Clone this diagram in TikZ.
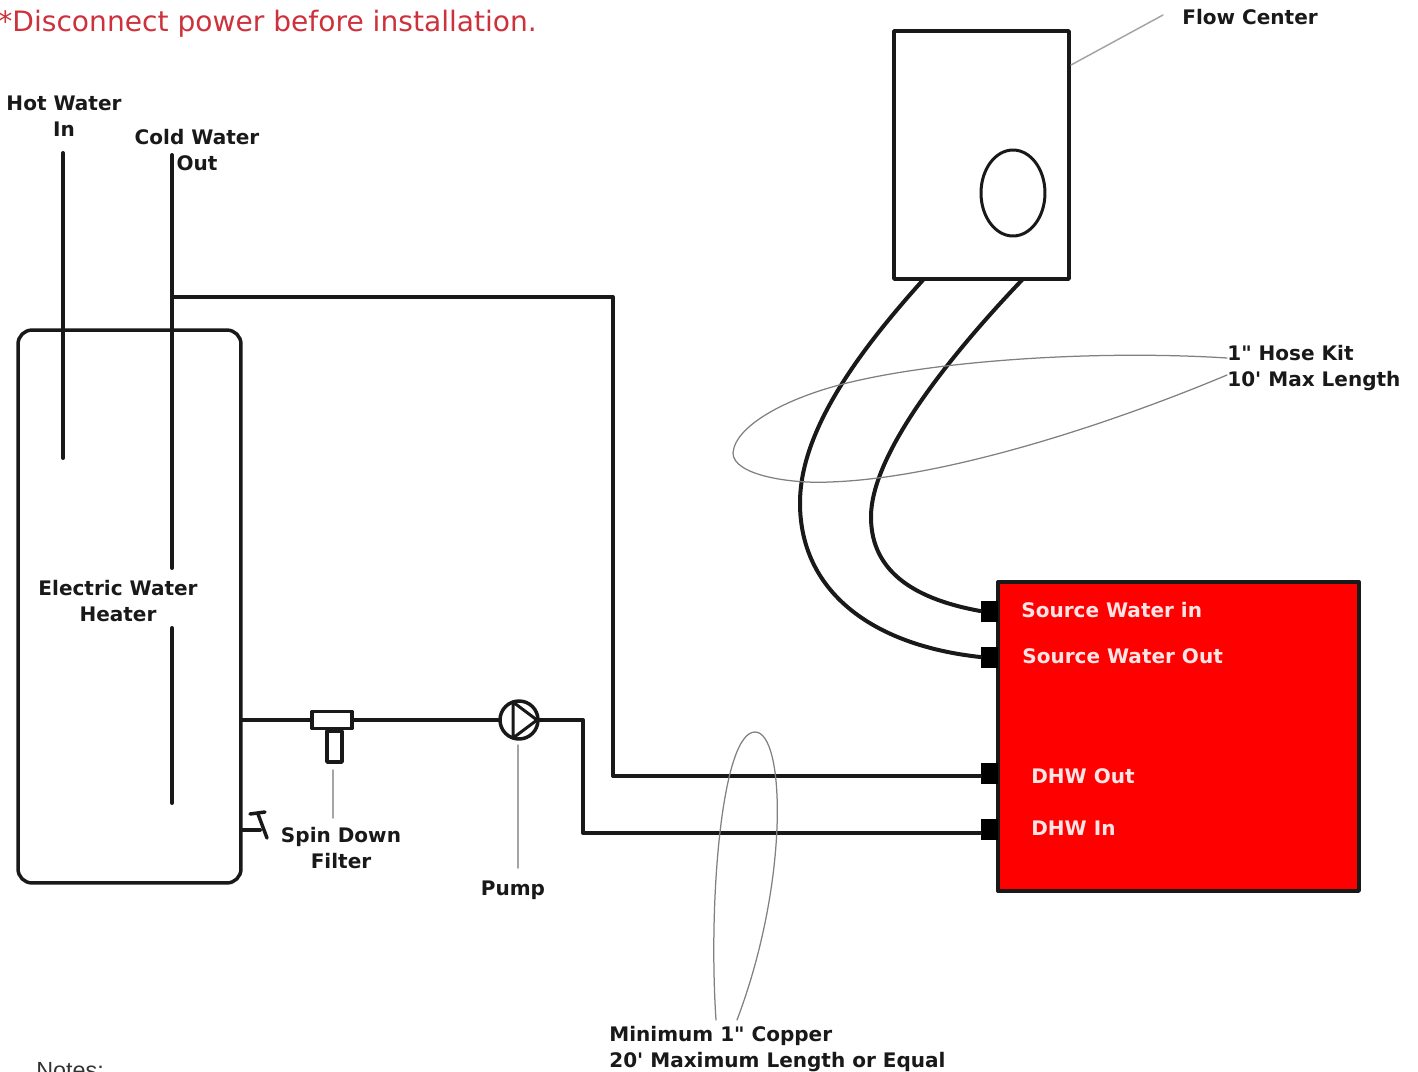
\documentclass[tikz,border=0pt]{standalone}
\usepackage{fontspec}
\setmainfont{DejaVu Sans}[Ligatures=TeXOff]
\newfontfamily\notesfont{Liberation Sans}
\usetikzlibrary{shapes.geometric}
\definecolor{warnred}{RGB}{205,50,60}
\definecolor{boxred}{RGB}{255,0,0}
\definecolor{leadgray}{RGB}{165,165,165}
\tikzset{
	pipe/.style={line width=0.08cm, black!90},
	leader/.style={line width=0.03cm, leadgray},
	loopline/.style={line width=0.025cm, gray},
	lbl/.style={font=\fontsize{11.4pt}{14.8pt}\selectfont\bfseries, inner sep=0pt, align=center, text=black!90},
	lblw/.style={lbl, anchor=west, align=left},
	lblred/.style={lblw, text=white!90!red},
	port/.style={fill=black, draw=none, minimum width=0.34cm, minimum height=0.42cm, inner sep=0pt},
}
\begin{document}
\begin{tikzpicture}[x=0.02cm, y=-0.02cm, line cap=round, line join=round]
	\useasboundingbox (0,0) rectangle (1418,1072);
	% text at the top and bottom
	\node[inner sep=0pt, anchor=west, text=warnred, font=\fontsize{16pt}{18pt}\selectfont] (warning) at (-2,24) {*Disconnect power before installation.};
	\node[inner sep=0pt, anchor=west, font=\notesfont\fontsize{13.3pt}{14pt}\selectfont, text=black!80] (notes) at (36,1071) {Notes:};
	% tank
	\node[draw=black!90, line width=0.07cm, rounded corners=0.28cm, minimum width=4.46cm, minimum height=11.06cm, inner sep=0pt] (heater) at (129.5,606.5) {};
	\node[lbl] (heaterlbl) at (118,601.5) {Electric Water\\Heater};
	\node[lbl] (hotlbl) at (64,116.5) {Hot Water\\In};
	\node[lbl] (coldlbl) at (197,150) {Cold Water\\Out};
	\coordinate (hottop) at (63,153);
	\coordinate (hotend) at (63,458);
	\coordinate (coldtop) at (172,155);
	\coordinate (coldgap) at (172,568);
	\coordinate (coldres) at (172,628);
	\coordinate (coldend) at (172,803);
	\coordinate (coldtee) at (172,297);
	\draw[pipe] (hottop) -- (hotend);
	\draw[pipe] (coldtop) -- (coldgap);
	\draw[pipe] (coldres) -- (coldend);
	% flow center
	\node[draw=black!90, line width=0.07cm, minimum width=3.5cm, minimum height=4.96cm, inner sep=0pt] (flow) at (981.5,155) {};
	\node[draw=black!90, line width=0.06cm, ellipse, minimum width=1.28cm, minimum height=1.72cm, inner sep=0pt] (flowcirc) at (1013,193) {};
	\node[lblw] (flowlbl) at (1182,17) {Flow Center};
	\coordinate (flowlead) at (1163,15);
	\draw[leader] (1071,65) -- (flowlead);
	% red unit
	\node[draw=black!90, fill=boxred, line width=0.07cm, minimum width=7.22cm, minimum height=6.18cm, inner sep=0pt] (unit) at (1178.5,736.5) {};
	\node[port] (srcin) at (989,611) {};
	\node[port] (srcout) at (989,657) {};
	\node[port] (dhwout) at (989,773) {};
	\node[port] (dhwin) at (989,829) {};
	\node[lblred] (srcinlbl) at (1021,610) {Source Water in};
	\node[lblred] (srcoutlbl) at (1022,656) {Source Water Out};
	\node[lblred] (dhwoutlbl) at (1031,776) {DHW Out};
	\node[lblred] (dhwinlbl) at (1031,828) {DHW In};
	% hoses
	\coordinate (hoseA) at (923,280);
	\coordinate (hoseB) at (1022,280);
	\draw[pipe] (hoseA) .. controls (860,350) and (800,430) .. (800,503) .. controls (800,590) and (870,645) .. (srcout.west);
	\draw[pipe] (hoseB) .. controls (960,345) and (871,450) .. (871,517) .. controls (871,575) and (920,600) .. (srcin.west);
	\draw[loopline] (1227,358) .. controls (1100,350) and (950,360) .. (860,380) .. controls (790,395) and (735,425) .. (733,453) .. controls (733,475) and (790,484) .. (830,482) .. controls (950,478) and (1120,420) .. (1227,375);
	\node[lblw] (hoselbl) at (1227,368) {1" Hose Kit\\10' Max Length};
	% filter and pump
	\node[draw=black!90, fill=white, line width=0.07cm, minimum width=0.8cm, minimum height=0.34cm, inner sep=0pt] (filter) at (332,720) {};
	\node[draw=black!90, fill=white, line width=0.07cm, minimum width=0.3cm, minimum height=0.62cm, inner sep=0pt] (filterbody) at (334.5,746.5) {};
	\draw[pipe] (filter.south -| filterbody.north) -- (filterbody.north);
	\node[draw=black!90, fill=white, circle, line width=0.07cm, minimum width=0.76cm, inner sep=0pt] (pump) at (519,720) {};
	\draw[line width=0.06cm, black!90] (513,702) -- (537,720) -- (513,738) -- cycle;
	\coordinate (heaterpipe) at (241,720);
	\coordinate (pumpbend) at (583,720);
	\coordinate (copperbend) at (583,833);
	\coordinate (teebend) at (613,297);
	\coordinate (outbend) at (613,776);
	\draw[pipe] (heaterpipe) -- (filter.west);
	\draw[pipe] (filter.east) -- (pump.west);
	\draw[pipe] (pump.east) -- (pumpbend) -- (copperbend) -- (copperbend -| dhwin.west);
	\draw[pipe] (coldtee) -- (teebend) -- (outbend) -- (outbend -| dhwout.west);
	% drain
	\draw[pipe] (241,830) -- (260,830);
	\draw[line width=0.07cm, black!90] (258,814) -- (267,838);
	\draw[line width=0.07cm, black!90] (250,814) -- (265,812);
	% labels with leaders
	\node[lbl] (filterlbl) at (341,848) {Spin Down\\Filter};
	\node[lbl] (pumplbl) at (513,890) {Pump};
	\draw[leader] (333,770) -- (333,818);
	\draw[leader] (518,745) -- (518,868);
	\draw[loopline] (716,1020) .. controls (708,900) and (722,732) .. (755,732) .. controls (785,732) and (790,880) .. (737,1020);
	\node[lblw] (copperlbl) at (609,1049) {Minimum 1" Copper\\20' Maximum Length or Equal};
\end{tikzpicture}
\end{document}
